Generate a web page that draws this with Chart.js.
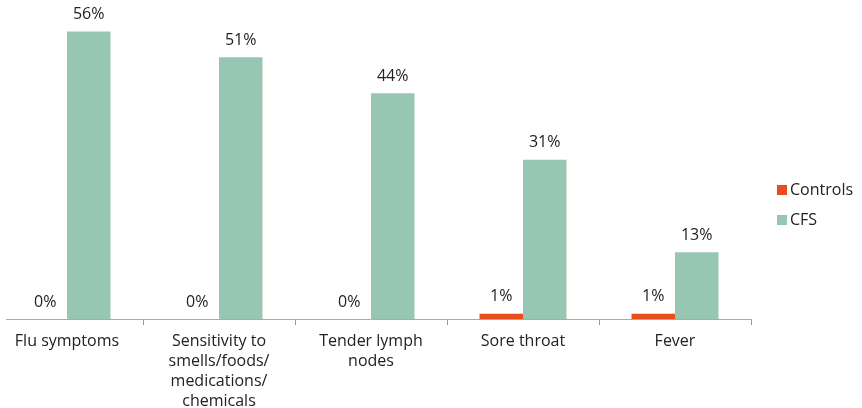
<!DOCTYPE html>
<html>
<head>
<meta charset="utf-8">
<script src="https://cdn.jsdelivr.net/npm/chart.js@4.4.1/dist/chart.umd.min.js"></script>
<style>
  html, body { margin: 0; padding: 0; background: #fff; overflow: hidden; }
  #wrap { position: absolute; left: -15px; top: 0; width: 877px; height: 408px; }
</style>
</head>
<body>
<div id="wrap"><canvas id="chart"></canvas></div>
<script>
const categories = [
  'Flu symptoms',
  ['Sensitivity to', 'smells/foods/', 'medications/', 'chemicals'],
  ['Tender lymph', 'nodes'],
  'Sore throat',
  'Fever'
];
const controlsValues = [0, 0, 0, 1, 1];
const cfsValues = [56, 51, 44, 31, 13];
const seriesNames = ['Controls', 'CFS'];
const seriesColors = ['#E84E1C', '#97C6B2'];

const FONT = '"Open Sans", "DejaVu Sans", sans-serif';
const textColor = '#222';

// value labels above each bar
const valueLabels = {
  id: 'valueLabels',
  afterDatasetsDraw(chart) {
    const c = chart.ctx;
    c.save();
    c.font = '16px ' + FONT;
    c.fillStyle = textColor;
    c.textAlign = 'center';
    c.textBaseline = 'middle';
    chart.data.datasets.forEach((ds, i) => {
      const meta = chart.getDatasetMeta(i);
      meta.data.forEach((bar, j) => {
        c.fillText(ds.data[j] + '%', bar.x, bar.y - 17);
      });
    });
    c.restore();
  }
};

// legend on the right + trim the clipped start of the axis line
const sideLegend = {
  id: 'sideLegend',
  afterDraw(chart) {
    const c = chart.ctx;
    c.save();
    c.fillStyle = '#fff';
    c.fillRect(0, chart.chartArea.bottom - 3, 21, 6);
    c.font = '16px ' + FONT;
    c.textBaseline = 'middle';
    c.textAlign = 'left';
    seriesNames.forEach((name, i) => {
      const y = 190 + i * 30;
      c.fillStyle = seriesColors[i];
      c.fillRect(792, y - 5, 10, 10);
      c.fillStyle = textColor;
      c.fillText(name, 805, y);
    });
    c.restore();
  }
};

new Chart(document.getElementById('chart'), {
  type: 'bar',
  data: {
    labels: categories,
    datasets: [
      { label: seriesNames[0], data: controlsValues, backgroundColor: seriesColors[0] },
      { label: seriesNames[1], data: cfsValues, backgroundColor: seriesColors[1] }
    ]
  },
  options: {
    responsive: true,
    maintainAspectRatio: false,
    animation: false,
    layout: { padding: { left: 6, right: 111, top: 11, bottom: 0 } },
    datasets: {
      bar: { barPercentage: 1, categoryPercentage: 0.572 }
    },
    scales: {
      x: {
        grid: { display: true, offset: true, drawOnChartArea: false, tickLength: 6, color: '#999' },
        border: { display: true, color: '#aaa' },
        ticks: {
          color: textColor,
          padding: 6,
          maxRotation: 0,
          autoSkip: false,
          font: { family: FONT, size: 16, lineHeight: 1.25 }
        },
        afterFit(scale) { scale.height = 89; }
      },
      y: {
        display: false,
        min: 0,
        max: 60
      }
    },
    plugins: {
      legend: { display: false },
      tooltip: { enabled: false }
    }
  },
  plugins: [valueLabels, sideLegend]
});
</script>
</body>
</html>
